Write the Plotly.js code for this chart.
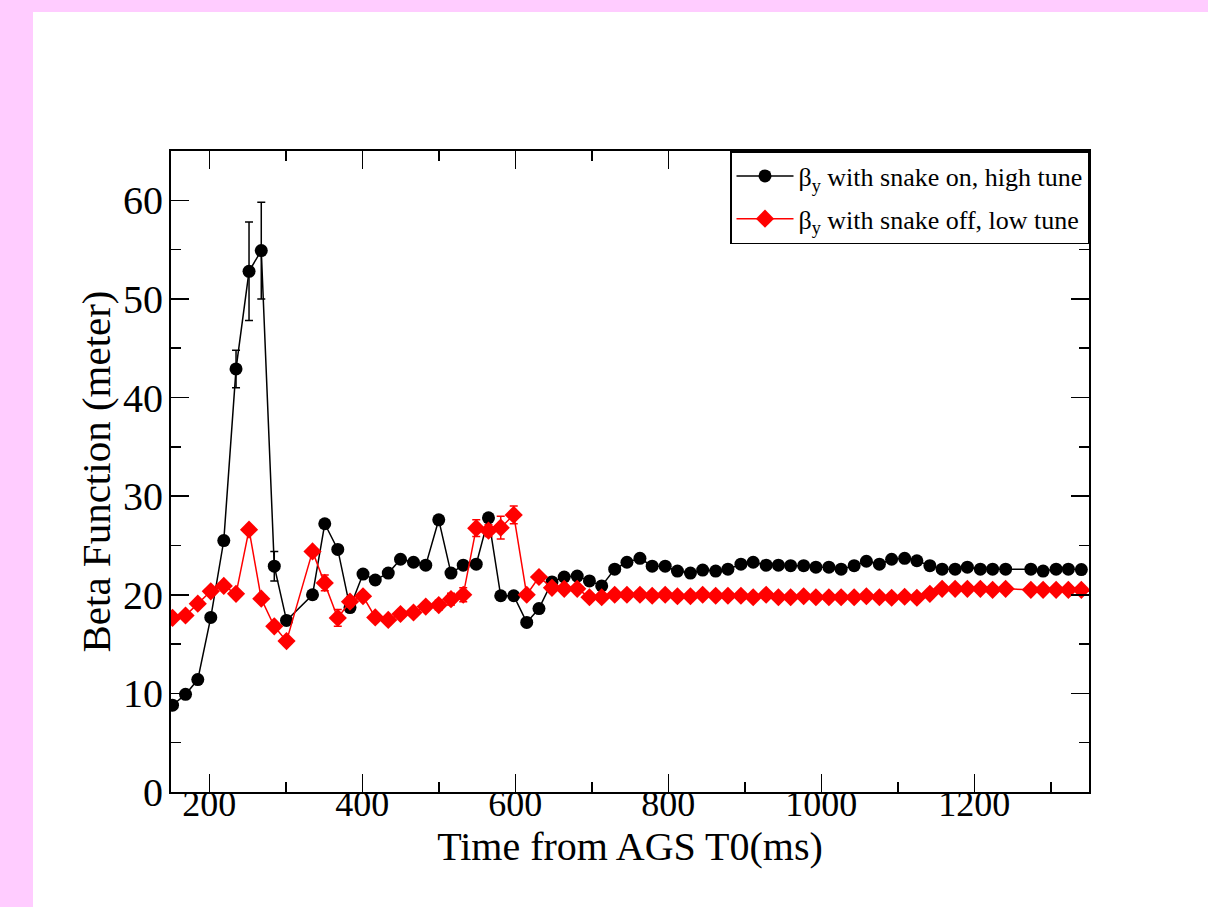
<!DOCTYPE html>
<html>
<head>
<meta charset="utf-8">
<script src="https://cdn.plot.ly/plotly-3.0.1.min.js"></script>
<style>
  html, body { margin: 0; padding: 0; background: #FFCCFF; width: 1208px; height: 907px; overflow: hidden; }
  #white { position: absolute; left: 33px; top: 12px; right: 0; bottom: 0; background: #ffffff; }
  #chart { position: absolute; left: 33px; top: 12px; width: 1175px; height: 895px; background: #ffffff; }
</style>
</head>
<body>
<div id="white"></div>
<div id="chart"></div>
<script>
// Time from AGS T0 (ms)
const timeMs = [152, 169, 185, 202, 219, 235, 252, 268, 285, 301, 335, 351, 368, 384, 401, 417, 434, 450, 467, 483,
  500, 516, 532, 549, 565, 581, 598, 615, 631, 648, 664, 681, 697, 713, 730, 746, 763, 779, 796, 812,
  829, 845, 862, 878, 895, 911, 928, 944, 960, 977, 993, 1010, 1026, 1043, 1059, 1076, 1092, 1109, 1125, 1142,
  1158, 1175, 1191, 1208, 1224, 1241, 1274, 1290, 1307, 1323, 1340];

// beta_y with snake on, high tune
const betaSnakeOn = [8.8, 9.9, 11.4, 17.7, 25.5, 42.9, 52.8, 54.9, 22.9, 17.4, 20.0, 27.2, 24.6, 18.7, 22.1, 21.5, 22.2, 23.6, 23.3, 23.0,
  27.6, 22.2, 23.0, 23.1, 27.8, 19.9, 19.9, 17.2, 18.6, 21.3, 21.8, 21.9, 21.4, 20.9, 22.6, 23.3, 23.7, 22.9, 22.9, 22.4,
  22.2, 22.5, 22.4, 22.6, 23.1, 23.3, 23.0, 23.0, 22.95, 22.95, 22.8, 22.8, 22.6, 22.95, 23.4, 23.1, 23.6, 23.7, 23.45, 22.95,
  22.6, 22.6, 22.8, 22.6, 22.6, 22.6, 22.6, 22.4, 22.6, 22.6, 22.55];
const errSnakeOn = [0.3, 0.3, 0.3, 0.3, 0.3, 1.9, 5.0, 4.9, 1.5, 0.3, 0.3, 0.3, 0.3, 0.3, 0.3, 0.3, 0.3, 0.3, 0.3, 0.3,
  0.3, 0.3, 0.3, 0.3, 0.3, 0.3, 0.3, 0.3, 0.3, 0.3, 0.3, 0.3, 0.3, 0.3, 0.3, 0.3, 0.3, 0.3, 0.3, 0.3,
  0.3, 0.3, 0.3, 0.3, 0.3, 0.3, 0.3, 0.3, 0.3, 0.3, 0.3, 0.3, 0.3, 0.3, 0.3, 0.3, 0.3, 0.3, 0.3, 0.3,
  0.3, 0.3, 0.3, 0.3, 0.3, 0.3, 0.3, 0.3, 0.3, 0.3, 0.3];

// beta_y with snake off, low tune
const betaSnakeOff = [17.65, 17.9, 19.1, 20.35, 20.9, 20.1, 26.6, 19.6, 16.8, 15.3, 24.4, 21.2, 17.65, 19.3, 19.85, 17.7, 17.45, 18.05, 18.2, 18.8,
  18.95, 19.55, 20.0, 26.75, 26.5, 26.8, 28.1, 20.0, 21.8, 20.7, 20.6, 20.6, 19.75, 19.75, 20.0, 20.0, 20.0, 19.9, 20.0, 19.85,
  19.85, 20.0, 19.9, 19.9, 19.9, 19.75, 20.0, 19.75, 19.75, 19.85, 19.75, 19.75, 19.75, 19.75, 19.85, 19.75, 19.7, 19.8, 19.7, 20.1,
  20.6, 20.6, 20.6, 20.6, 20.5, 20.6, 20.5, 20.5, 20.5, 20.5, 20.5];
const errSnakeOff = [0.3, 0.3, 0.3, 0.3, 0.3, 0.3, 0.3, 0.3, 0.3, 0.3, 0.3, 0.8, 0.85, 0.5, 0.4, 0.3, 0.3, 0.3, 0.3, 0.3,
  0.5, 0.6, 0.7, 0.85, 0.6, 1.15, 0.9, 0.3, 0.4, 0.3, 0.3, 0.3, 0.3, 0.3, 0.3, 0.3, 0.3, 0.3, 0.3, 0.3,
  0.3, 0.3, 0.3, 0.3, 0.3, 0.3, 0.3, 0.3, 0.3, 0.3, 0.3, 0.3, 0.3, 0.3, 0.3, 0.3, 0.3, 0.3, 0.3, 0.3,
  0.3, 0.3, 0.3, 0.3, 0.3, 0.3, 0.3, 0.3, 0.3, 0.3, 0.3];

const seriesNames = ['β<sub>y</sub> with snake on, high tune', 'β<sub>y</sub> with snake off, low tune'];
const xTitle = 'Time from AGS T0(ms)';
const yTitle = 'Beta Function (meter)';

const FONT = '"Liberation Serif", "Times New Roman", serif';

const traces = [
  {
    x: timeMs, y: betaSnakeOn, name: seriesNames[0], type: 'scatter', mode: 'lines+markers',
    legendgroup: 'a',
    line: { color: '#000000', width: 1.5 },
    marker: { symbol: 'circle', size: 13, color: '#000000' },
    error_y: { type: 'data', array: errSnakeOn, visible: true, color: '#000000', thickness: 1.5, width: 4 }
  },
  {
    x: timeMs, y: betaSnakeOff, name: seriesNames[1], type: 'scatter', mode: 'lines+markers',
    legendgroup: 'b',
    line: { color: '#FF0000', width: 1.5 },
    marker: { symbol: 'diamond', size: 14, color: '#FF0000' },
    error_y: { type: 'data', array: errSnakeOff, visible: true, color: '#FF0000', thickness: 1.5, width: 4 }
  }
];

const axisCommon = {
  showgrid: false, zeroline: false,
  showline: true, linecolor: '#000000', linewidth: 2,
  mirror: 'allticks',
  ticks: 'inside', ticklen: 18, tickwidth: 1.5, tickcolor: '#000000'
};

const layout = {
  width: 1175, height: 895,
  paper_bgcolor: '#ffffff', plot_bgcolor: '#ffffff',
  margin: { l: 138, r: 119, t: 139, b: 115 },
  showlegend: true,
  legend: {
    x: 1, y: 1, xanchor: 'right', yanchor: 'top',
    bgcolor: '#ffffff', bordercolor: '#000000', borderwidth: 1.5,
    font: { family: FONT, size: 26, color: '#000000' },
    traceorder: 'grouped', tracegroupgap: 6, itemwidth: 57
  },
  xaxis: Object.assign({}, axisCommon, {
    range: [150, 1350], dtick: 200, tick0: 0,
    tickfont: { family: FONT, size: 36, color: '#000000' },
    minor: { dtick: 100, ticks: 'inside', ticklen: 10, tickwidth: 1.5, tickcolor: '#000000' },
    title: { text: xTitle, font: { family: FONT, size: 40, color: '#000000' }, standoff: 0 },
    ticklabelstandoff: -21
  }),
  yaxis: Object.assign({}, axisCommon, {
    range: [0, 65], dtick: 10, tick0: 0,
    tickfont: { family: FONT, size: 40, color: '#000000' },
    minor: { dtick: 5, ticks: 'inside', ticklen: 10, tickwidth: 1.5, tickcolor: '#000000' },
    title: { text: yTitle, font: { family: FONT, size: 41, color: '#000000' }, standoff: 0 },
    ticklabelstandoff: -2
  })
};

Plotly.newPlot('chart', traces, layout, { displayModeBar: false, staticPlot: true });
</script>
</body>
</html>
